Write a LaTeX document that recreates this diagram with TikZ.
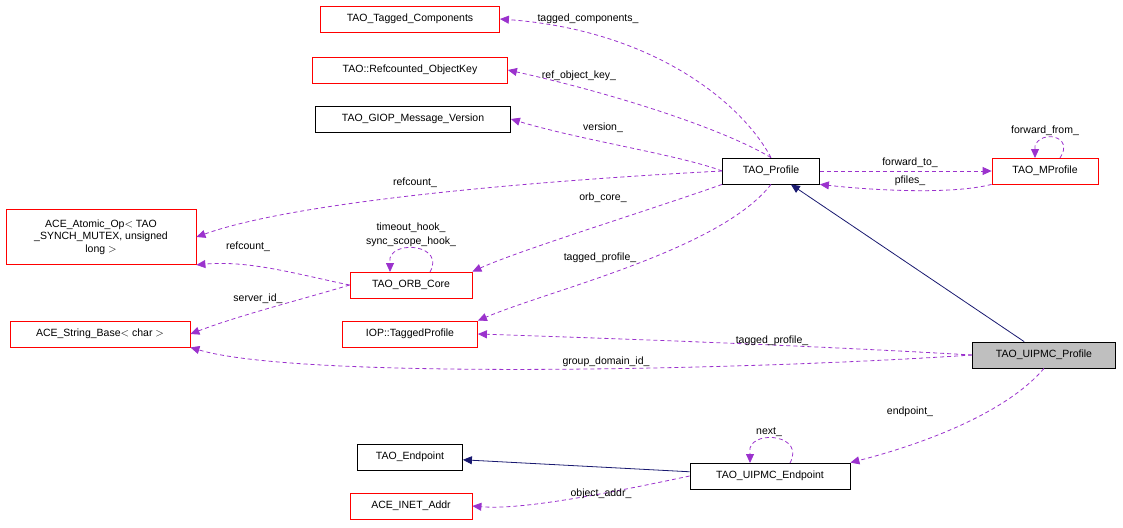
\documentclass[tikz,border=0pt]{standalone}
\usepackage{fontspec}
\setmainfont{Liberation Sans}
\usetikzlibrary{arrows.meta}
\definecolor{pur}{RGB}{155,50,205}
\definecolor{nav}{RGB}{25,25,112}
\begin{document}
\begin{tikzpicture}[x=1pt,y=-1pt,line width=0.8pt,
 box/.style={draw=red,fill=white,font=\fontsize{10.5}{12.5}\selectfont,inner sep=3pt,minimum height=26pt},
 bbox/.style={box,draw=black},
 use/.style={draw=pur,dash pattern=on 4pt off 3pt,-{Triangle[length=9pt,width=8pt,fill=pur]}},
 inh/.style={draw=nav,-{Triangle[length=9pt,width=8pt,fill=nav]}},
 lab/.style={font=\fontsize{10.5}{12.5}\selectfont,inner sep=1pt}]
\useasboundingbox (0,0) rectangle (1123,527);
\node[box,minimum width=179pt] (tc) at (410,19) {TAO\_Tagged\_Components};
\node[box,minimum width=195pt] (rk) at (410,70) {TAO::Refcounted\_ObjectKey};
\node[bbox,minimum width=195pt] (gv) at (413,119) {TAO\_GIOP\_Message\_Version};
\node[bbox,minimum width=97pt] (tp) at (771,171) {TAO\_Profile};
\node[box,minimum width=106pt] (mp) at (1045,171) {TAO\_MProfile};
\node[box,minimum width=190pt,minimum height=55pt,align=center] (at) at (101,237) {ACE\_Atomic\_Op$<$ TAO\\\_SYNCH\_MUTEX, unsigned\\long $>$};
\node[box,minimum width=122pt] (oc) at (411,285) {TAO\_ORB\_Core};
\node[box,minimum width=180pt] (sb) at (100,334) {ACE\_String\_Base$<$ char $>$};
\node[box,minimum width=135pt] (ip) at (410,334) {IOP::TaggedProfile};
\node[bbox,fill={rgb,255:red,191;green,191;blue,191},minimum width=143pt] (up) at (1044,355) {TAO\_UIPMC\_Profile};
\node[bbox,minimum width=105pt] (te) at (410,457) {TAO\_Endpoint};
\node[bbox,minimum width=160pt] (ue) at (770,476) {TAO\_UIPMC\_Endpoint};
\node[box,minimum width=122pt] (ia) at (411,506) {ACE\_INET\_Addr};

\draw[inh] (up) -- (tp);
\draw[inh] (ue) -- (te);
\draw[use] (tp.north) .. controls (740,100) and (650,30) .. (tc.east);
\node[lab] at (588,19) {tagged\_components\_};
\draw[use] (tp.north) .. controls (725,130) and (620,95) .. (rk.east);
\node[lab] at (579,76) {ref\_object\_key\_};
\draw[use] (tp.west) .. controls (680,155) and (580,140) .. (gv.east);
\node[lab] at (603,128) {version\_};
\draw[use] (tp.west) .. controls (550,180) and (300,200) .. (at.east);
\node[lab] at (415,183) {refcount\_};
\draw[use] (tp.south west) .. controls (650,210) and (520,250) .. (oc.north east);
\node[lab] at (603,198) {orb\_core\_};
\draw[use] (tp.south) .. controls (720,250) and (550,290) .. (ip.north east);
\node[lab] at (600,258) {tagged\_profile\_};
\draw[use] (tp.east) -- (mp.west);
\node[lab] at (910,163) {forward\_to\_};
\draw[use] (mp.south west) .. controls (950,195) and (870,190) .. (tp.south east);
\node[lab] at (910,181) {pfiles\_};
\draw[use] (1060,158) .. controls (1075,135) and (1040,130) .. (1035,146) -- (1035,158);
\node[lab] at (1045,131) {forward\_from\_};
\draw[use] (430,272) .. controls (445,245) and (395,240) .. (390,258) -- (390,272);
\node[lab] at (411,228) {timeout\_hook\_};
\node[lab] at (411,242) {sync\_scope\_hook\_};
\draw[use] (oc.west) .. controls (300,275) and (250,260) .. (at.south east);
\node[lab] at (248,247) {refcount\_};
\draw[use] (oc.west) .. controls (300,300) and (240,315) .. (sb.east);
\node[lab] at (258,299) {server\_id\_};
\draw[use] (up.west) .. controls (800,345) and (600,338) .. (ip.east);
\node[lab] at (772,341) {tagged\_profile\_};
\draw[use] (up.west) .. controls (750,370) and (300,380) .. (sb.south east);
\node[lab] at (606,362) {group\_domain\_id\_};
\draw[use] (up.south) .. controls (1000,420) and (900,450) .. (ue.north east);
\node[lab] at (910,412) {endpoint\_};
\draw[use] (790,463) .. controls (805,435) and (755,430) .. (750,448) -- (750,463);
\node[lab] at (769,432) {next\_};
\draw[use] (ue.west) .. controls (600,495) and (520,510) .. (ia.east);
\node[lab] at (601,494) {object\_addr\_};
\end{tikzpicture}
\end{document}
